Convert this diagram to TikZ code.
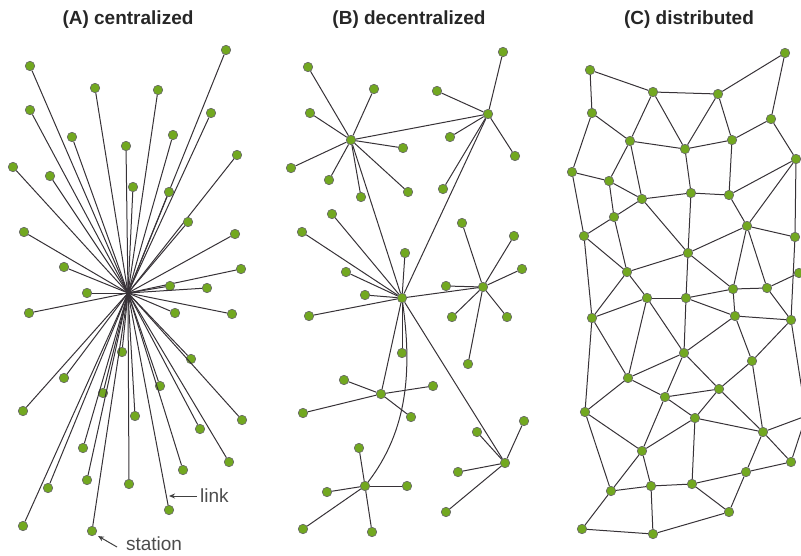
\documentclass[tikz,border=0pt]{standalone}
\usepackage{fontspec}
\setmainfont{Liberation Sans}
\usetikzlibrary{arrows.meta}
\definecolor{nodegreen}{RGB}{114,168,32}
\definecolor{edgegray}{RGB}{55,50,55}
\tikzset{
  st/.style={circle, fill=nodegreen, draw=black!60, line width=0.6pt, inner sep=0pt, minimum size=9.5pt},
  ln/.style={draw=edgegray, line width=1pt},
  ttl/.style={font=\fontsize{19}{19}\selectfont\bfseries, text=black!85, inner sep=0pt},
  lbl/.style={font=\fontsize{19}{19}\selectfont, text=black!70, inner sep=0pt},
  pointer/.style={draw=black!75, line width=1pt, -{Stealth[length=6pt,width=5pt]}}
}
\begin{document}
\begin{tikzpicture}[x=1pt,y=-1pt]
\useasboundingbox (0,0) rectangle (801,555);
% titles
\node[ttl] (tA) at (128,20) {(A) centralized};
\node[ttl] (tB) at (409,20) {(B) decentralized};
\node[ttl] (tC) at (689,20) {(C) distributed};

% ---------- (A) centralized ----------
\coordinate (hubA) at (128,293);
\foreach \p [count=\i] in {(226,50),(30,66),(95,88),(158,90),(30,110),(211,113),(72,137),(173,135),(126,146),(237,155),(13,167),(50,176),(133,187),(169,192),(188,222),(24,232),(235,234),(64,267),(241,269),(170,286),(207,288),(87,293),(29,313),(175,313),(232,314),(122,352),(191,359),(64,378),(160,386),(103,393),(23,411),(135,416),(242,420),(200,429),(83,448),(229,462),(183,470),(87,480),(129,484),(48,488),(169,510),(23,526),(92,531)}
{
  \node[st] (a\i) at \p {};
  \draw[ln] (hubA) -- (a\i);
}
% labels
\node[lbl, anchor=west] (lk) at (200,496) {link};
\coordinate (lkend) at (169,496);
\draw[pointer] (lk.west) ++(-3,0) -- (lkend);
\node[lbl] (stn) at (154,544) {station};
\coordinate (stnstart) at (117,547);
\coordinate (stnend) at (98,536);
\draw[pointer] (stnstart) -- (stnend);

% ---------- (B) decentralized ----------
\node[st] (b1) at (351,140) {};
\node[st] (b2) at (488,114) {};
\node[st] (b3) at (402,298) {};
\node[st] (b4) at (483,287) {};
\node[st] (b5) at (381,394) {};
\node[st] (b6) at (505,463) {};
\node[st] (b7) at (365,486) {};
\draw[ln] (b1) -- (b2);
\draw[ln] (b1) -- (b3);
\draw[ln] (b2) -- (b3);
\draw[ln] (b3) -- (b4);
\draw[ln] (b3) -- (b5);
\draw[ln] (b3) -- (b6);
\draw[ln] (b3) .. controls (412,370) and (408,430) .. (b7);
\foreach \p [count=\i] in {(308,67),(374,89),(310,113),(403,148),(291,168),(329,180),(361,197),(408,192)}
  { \node[st] (ba\i) at \p {}; \draw[ln] (b1) -- (ba\i); }
\foreach \p [count=\i] in {(503,52),(437,91),(450,137),(515,156),(443,189)}
  { \node[st] (bb\i) at \p {}; \draw[ln] (b2) -- (bb\i); }
\foreach \p [count=\i] in {(332,214),(302,232),(405,253),(346,272),(365,295),(309,316),(402,353)}
  { \node[st] (bc\i) at \p {}; \draw[ln] (b3) -- (bc\i); }
\foreach \p [count=\i] in {(462,223),(514,236),(522,269),(446,286),(452,317),(507,317),(468,364)}
  { \node[st] (bd\i) at \p {}; \draw[ln] (b4) -- (bd\i); }
\foreach \p [count=\i] in {(344,380),(433,386),(303,413),(411,417)}
  { \node[st] (be\i) at \p {}; \draw[ln] (b5) -- (be\i); }
\foreach \p [count=\i] in {(524,421),(477,432),(458,472),(446,512)}
  { \node[st] (bf\i) at \p {}; \draw[ln] (b6) -- (bf\i); }
\foreach \p [count=\i] in {(359,448),(327,492),(407,486),(303,529),(372,532)}
  { \node[st] (bg\i) at \p {}; \draw[ln] (b7) -- (bg\i); }

% ---------- (C) distributed ----------
\foreach \p [count=\i] in {(590,70),(653,92),(718,94),(785,53),(592,113),(771,119),(630,141),(685,149),(732,140),(796,159),(572,172),(609,181),(642,199),(691,193),(729,195),(614,217),(584,236),(747,226),(795,237),(688,253),(627,272),(799,273),(733,289),(767,288),(647,298),(686,298),(592,318),(735,316),(791,320),(684,353),(752,361),(628,378),(665,397),(719,389),(585,412),(695,418),(763,432),(642,451),(791,462),(746,472),(611,491),(651,486),(692,484),(729,512),(582,529),(653,534),(806,416)}
  { \node[st] (c\i) at \p {}; }
\foreach \u/\v in {1/2,1/5,2/3,2/7,2/8,3/4,3/8,3/9,4/6,5/7,5/11,6/9,6/10,7/8,7/12,7/13,8/9,8/14,9/15,10/15,10/18,10/19,11/12,11/17,12/13,12/16,13/14,13/16,13/20,14/15,14/20,15/18,16/17,16/21,17/21,17/27,18/19,18/20,18/23,18/24,19/29,20/21,20/23,20/26,21/25,21/27,22/24,23/24,23/26,23/28,24/29,25/26,25/27,25/30,25/32,26/28,26/30,27/32,27/35,28/29,28/30,28/31,29/31,29/47,30/32,30/33,30/34,31/34,31/37,32/33,32/35,33/34,33/36,33/38,34/36,34/37,35/38,35/41,36/37,36/38,36/43,37/39,37/40,37/47,39/47,39/40,40/43,40/44,38/41,38/42,41/42,41/45,42/43,42/46,43/44,44/46,45/46}
  { \draw[ln] (c\u) -- (c\v); }
\end{tikzpicture}
\end{document}
